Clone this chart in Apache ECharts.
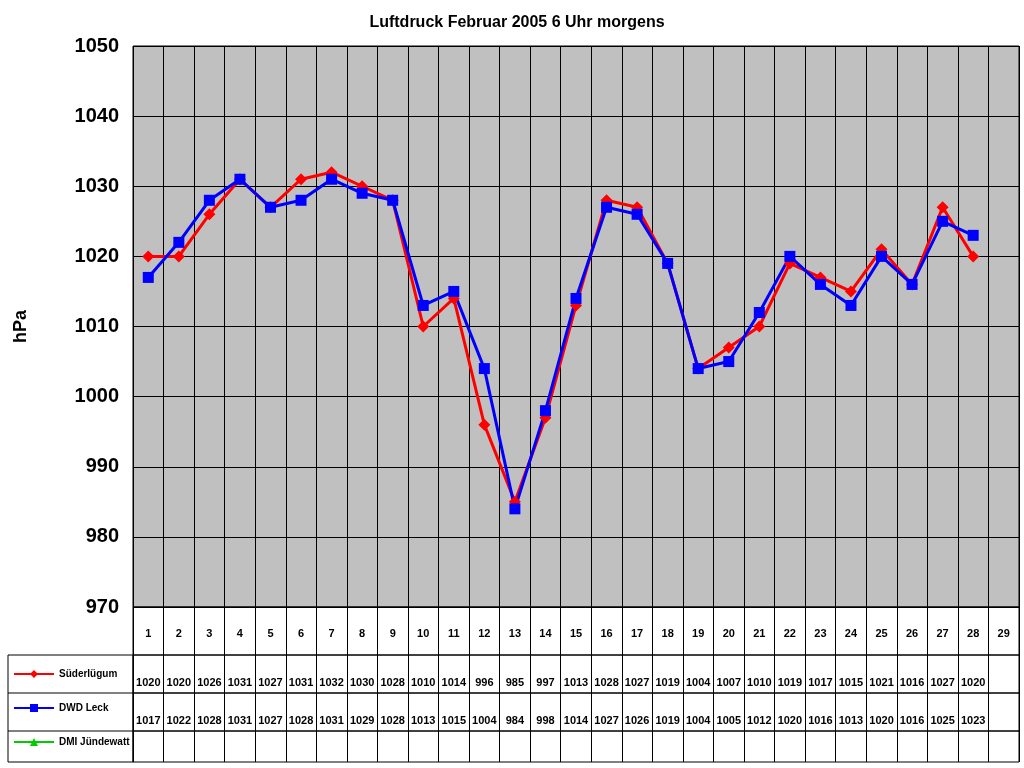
<!DOCTYPE html>
<html>
<head>
<meta charset="utf-8">
<script src="https://cdn.jsdelivr.net/npm/echarts@6/dist/echarts.min.js"></script>
<style>body{margin:0;background:#fff}#c{width:1024px;height:768px}</style>
</head>
<body>
<div id="c"></div>
<script>
var days = ['1','2','3','4','5','6','7','8','9','10','11','12','13','14','15','16','17','18','19','20','21','22','23','24','25','26','27','28','29'];
var suederluegum = [1020,1020,1026,1031,1027,1031,1032,1030,1028,1010,1014,996,985,997,1013,1028,1027,1019,1004,1007,1010,1019,1017,1015,1021,1016,1027,1020,null];
var dwdLeck = [1017,1022,1028,1031,1027,1028,1031,1029,1028,1013,1015,1004,984,998,1014,1027,1026,1019,1004,1005,1012,1020,1016,1013,1020,1016,1025,1023,null];
var dmi = [null,null,null,null,null,null,null,null,null,null,null,null,null,null,null,null,null,null,null,null,null,null,null,null,null,null,null,null,null];

var mychart = echarts.init(document.getElementById('c'));
var font = 'Liberation Sans, Arial, sans-serif';
function cells(arr) { return arr.map(function (v) { return v == null ? '' : String(v); }); }

var rows = [
    { top: 607, height: 48, data: days },
    { top: 655, height: 38, data: cells(suederluegum) },
    { top: 693, height: 38, data: cells(dwdLeck) },
    { top: 731, height: 31, data: cells(dmi) }
];

var grids = [{ left: 133, right: 5, top: 46, bottom: 161, show: true, backgroundColor: '#C0C0C0', borderColor: '#000', borderWidth: 1 }];
var xAxes = [{
    type: 'category', gridIndex: 0, data: days, boundaryGap: true,
    axisLine: { show: false }, axisTick: { show: false },
    axisLabel: { show: false },
    splitLine: { show: true, interval: 0, lineStyle: { color: '#000', width: 1 } }
}];
var yAxes = [{
    type: 'value', gridIndex: 0, min: 970, max: 1050, interval: 10,
    name: 'hPa', nameLocation: 'middle', nameGap: 103,
    nameTextStyle: { fontFamily: font, fontWeight: 'bold', fontSize: 18, color: '#000' },
    axisLine: { show: false }, axisTick: { show: false },
    axisLabel: { fontFamily: font, fontWeight: 'bold', fontSize: 20, color: '#000', margin: 14,
        formatter: function (v) { return String(v); } },
    splitLine: { lineStyle: { color: '#000', width: 1 } }
}];
rows.forEach(function (r, i) {
    grids.push({ left: 133, right: 5, top: r.top, height: r.height, show: true, borderColor: '#000', borderWidth: 1 });
    xAxes.push({
        type: 'category', gridIndex: i + 1, data: r.data, boundaryGap: true,
        axisLine: { show: false }, axisTick: { show: false },
        axisLabel: { inside: true, interval: 0, margin: i === 0 ? 16 : 5, fontFamily: font, fontWeight: 'bold', fontSize: 11, color: '#000' },
        splitLine: { show: true, interval: 0, lineStyle: { color: '#000', width: 1 } }
    });
    yAxes.push({ type: 'value', gridIndex: i + 1, show: false, splitLine: { show: false } });
});

var option = {
    animation: false,
    title: { text: 'Luftdruck Februar 2005 6 Uhr morgens', left: 512, textAlign: 'center', top: 10,
        textStyle: { fontFamily: font, fontWeight: 'bold', fontSize: 16, color: '#000' } },
    legend: {
        orient: 'vertical', left: 8, top: 664, itemGap: 24, itemWidth: 40, itemHeight: 10,
        textStyle: { fontFamily: font, fontWeight: 'bold', fontSize: 10, color: '#000', padding: [18, 0, 0, 0] },
        data: ['Süderlügum', 'DWD Leck', 'DMI Jündewatt']
    },
    graphic: [
        { type: 'rect', shape: { x: 8, y: 655, width: 125, height: 107 }, style: { fill: 'none', stroke: '#000', lineWidth: 1 } },
        { type: 'line', shape: { x1: 8, y1: 693, x2: 133, y2: 693 }, style: { stroke: '#000' } },
        { type: 'line', shape: { x1: 8, y1: 731, x2: 133, y2: 731 }, style: { stroke: '#000' } }
    ],
    grid: grids,
    xAxis: xAxes,
    yAxis: yAxes,
    series: [
        { name: 'Süderlügum', type: 'line', data: suederluegum, color: '#FF0000', symbol: 'diamond', symbolSize: 12,
          lineStyle: { width: 3 }, itemStyle: { color: '#FF0000' } },
        { name: 'DWD Leck', type: 'line', data: dwdLeck, color: '#0000FF', symbol: 'rect', symbolSize: 11,
          lineStyle: { width: 3 }, itemStyle: { color: '#0000FF' } },
        { name: 'DMI Jündewatt', type: 'line', data: dmi, color: '#00CC00', symbol: 'triangle', symbolSize: 10,
          lineStyle: { width: 3 }, itemStyle: { color: '#00CC00' } }
    ]
};
mychart.setOption(option);
</script>
</body>
</html>
